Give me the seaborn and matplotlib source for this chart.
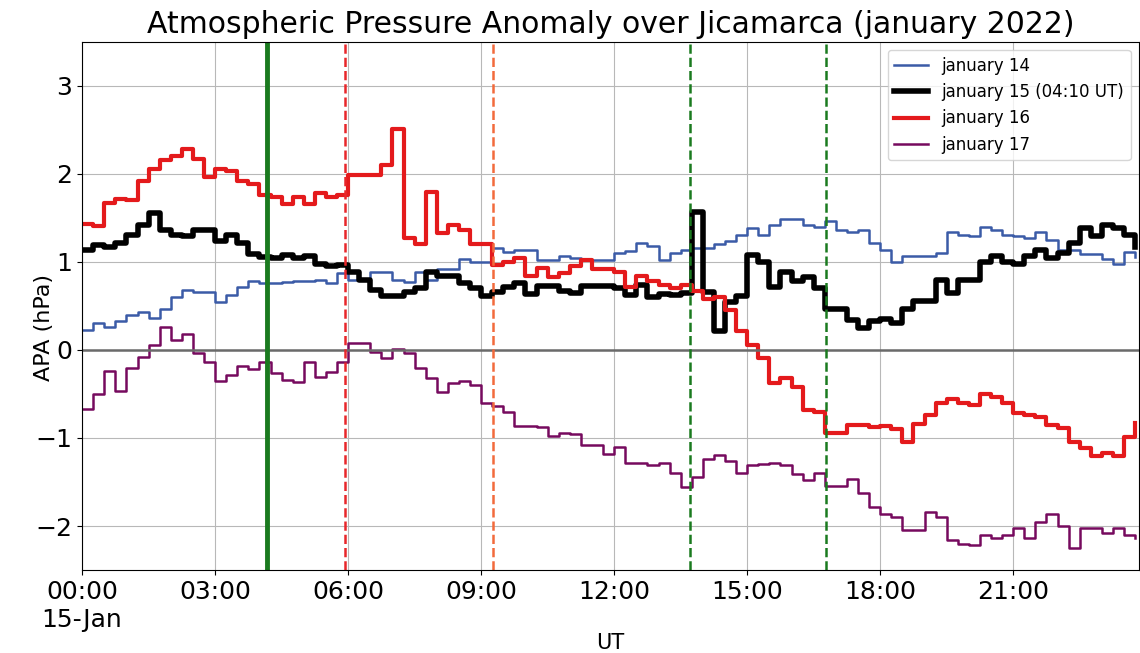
import numpy as np
import pandas as pd
import matplotlib
matplotlib.use("Agg")
import matplotlib.pyplot as plt
import matplotlib.dates as mdates
from matplotlib.ticker import FuncFormatter
import seaborn as sns

# 15-min samples over the day (UT)
times = pd.date_range("2022-01-15 00:00", periods=96, freq="15min")

jan14 = [0.23, 0.31, 0.26, 0.33, 0.40, 0.43, 0.36, 0.47, 0.60, 0.68, 0.66, 0.66, 0.55, 0.62, 0.72, 0.78, 0.76, 0.76,
         0.77, 0.78, 0.78, 0.79, 0.76, 0.87, 0.80, 0.80, 0.89, 0.89, 0.80, 0.77, 0.89, 0.80, 0.92, 0.92, 1.03, 1.00,
         1.00, 1.16, 1.11, 1.14, 1.14, 1.02, 1.02, 1.07, 1.04, 1.02, 1.02, 1.02, 1.10, 1.12, 1.22, 1.18,
         1.02, 1.10, 1.14, 1.16, 1.16, 1.20, 1.24, 1.30, 1.39, 1.30, 1.42, 1.49, 1.49, 1.42, 1.40, 1.47,
         1.36, 1.34, 1.36, 1.22, 1.14, 1.00, 1.07, 1.07, 1.07, 1.10, 1.34, 1.30, 1.29, 1.40, 1.36, 1.30,
         1.29, 1.27, 1.34, 1.25, 1.14, 1.14, 1.09, 1.09, 1.03, 0.98, 1.11, 1.06]

jan15 = [1.13, 1.19, 1.17, 1.22, 1.30, 1.42, 1.56, 1.36, 1.31, 1.29, 1.36, 1.36, 1.24, 1.31, 1.22, 1.09, 1.06, 1.05,
         1.08, 1.04, 1.07, 0.98, 0.95, 0.97, 0.89, 0.80, 0.68, 0.61, 0.61, 0.66, 0.70, 0.88, 0.84, 0.84, 0.76, 0.70,
         0.61, 0.66, 0.71, 0.76, 0.64, 0.73, 0.73, 0.67, 0.65, 0.73, 0.73, 0.73, 0.70, 0.62, 0.74, 0.60,
         0.64, 0.62, 0.65, 1.57, 0.66, 0.21, 0.55, 0.61, 1.08, 1.00, 0.72, 0.88, 0.78, 0.83, 0.70, 0.46,
         0.46, 0.34, 0.25, 0.33, 0.35, 0.31, 0.46, 0.56, 0.56, 0.80, 0.65, 0.80, 0.80, 1.00, 1.07, 1.00,
         0.98, 1.07, 1.14, 1.05, 1.10, 1.22, 1.38, 1.29, 1.42, 1.38, 1.30, 1.17]

jan16 = [1.43, 1.41, 1.67, 1.72, 1.70, 1.92, 2.06, 2.16, 2.20, 2.28, 2.17, 1.96, 2.05, 2.03, 1.92, 1.88, 1.76, 1.74,
         1.66, 1.74, 1.66, 1.78, 1.74, 1.76, 1.99, 1.99, 1.99, 2.10, 2.51, 1.27, 1.20, 1.79, 1.33, 1.42, 1.36, 1.20,
         1.20, 0.97, 1.00, 1.05, 0.84, 0.93, 0.83, 0.87, 0.95, 1.02, 0.92, 0.92, 0.89, 0.72, 0.84, 0.78,
         0.74, 0.70, 0.74, 0.67, 0.58, 0.60, 0.45, 0.21, 0.06, -0.09, -0.38, -0.32, -0.42, -0.68, -0.70, -0.94,
         -0.94, -0.85, -0.85, -0.88, -0.86, -0.90, -1.04, -0.84, -0.74, -0.60, -0.56, -0.60, -0.62, -0.50, -0.54, -0.60,
         -0.72, -0.74, -0.76, -0.85, -0.89, -1.05, -1.11, -1.21, -1.17, -1.21, -0.99, -0.83]

jan17 = [-0.67, -0.50, -0.24, -0.47, -0.20, -0.08, 0.06, 0.26, 0.11, 0.18, -0.04, -0.14, -0.35, -0.28, -0.18, -0.22, -0.14, -0.26,
         -0.34, -0.36, -0.14, -0.31, -0.25, -0.14, 0.08, 0.08, -0.02, -0.09, 0.01, -0.04, -0.20, -0.32, -0.48, -0.38, -0.35, -0.40,
         -0.60, -0.64, -0.70, -0.86, -0.86, -0.88, -0.98, -0.94, -0.96, -1.08, -1.08, -1.18, -1.10, -1.28, -1.28, -1.31,
         -1.28, -1.40, -1.56, -1.44, -1.24, -1.19, -1.26, -1.40, -1.31, -1.30, -1.28, -1.31, -1.41, -1.48, -1.40, -1.54,
         -1.54, -1.47, -1.63, -1.78, -1.86, -1.90, -2.04, -2.04, -1.84, -1.90, -2.16, -2.20, -2.22, -2.10, -2.14, -2.10,
         -2.02, -2.14, -1.95, -1.86, -2.00, -2.25, -2.02, -2.02, -2.08, -2.02, -2.10, -2.14]

series_labels = ["january 14", "january 15 (04:10 UT)", "january 16", "january 17"]
series_colors = ["#3b5ba7", "black", "#e41a1c", "#760a5e"]
series_widths = [1.8, 4.0, 3.0, 1.8]

# event markers (UT)
events = ["2022-01-15 04:10", "2022-01-15 05:56", "2022-01-15 09:16", "2022-01-15 13:42", "2022-01-15 16:46"]
event_colors = ["#1a7a1f", "#e8262a", "#f26a3c", "#1a7a1f", "#1a7a1f"]
event_styles = ["-", "--", "--", "--", "--"]
event_widths = [3.5, 1.8, 1.8, 1.8, 1.8]


def fmt_time(x, pos):
    d = mdates.num2date(x)
    s = d.strftime("%H:%M")
    if d.hour == 0 and d.minute == 0:
        s += "\n" + d.strftime("%d-%b")
    return s


fig, ax = plt.subplots(figsize=(11.4, 6.53), dpi=100)
fig.subplots_adjust(left=0.072, right=0.999, top=0.936, bottom=0.127)

for vals, lab, col, lw in zip([jan14, jan15, jan16, jan17], series_labels, series_colors, series_widths):
    df = pd.DataFrame({"time": times, "apa": vals})
    sns.lineplot(data=df, x="time", y="apa", ax=ax, color=col, linewidth=lw,
                 label=lab, drawstyle="steps-post")

ax.axhline(0, color="#6a6a6a", linewidth=1.8)
for t, c, ls, lw in zip(events, event_colors, event_styles, event_widths):
    ax.axvline(pd.Timestamp(t), color=c, linestyle=ls, linewidth=lw)

ax.set_xlim(times[0], pd.Timestamp("2022-01-15 23:50"))
ax.set_ylim(-2.5, 3.5)
ax.xaxis.set_major_locator(mdates.HourLocator(byhour=range(0, 24, 3)))
ax.xaxis.set_major_formatter(FuncFormatter(fmt_time))
ax.grid(True, color="#b8b8b8", linewidth=0.8)
ax.tick_params(axis="both", labelsize=18)

ax.set_title("Atmospheric Pressure Anomaly over Jicamarca (january 2022)", fontsize=21.5)
ax.set_xlabel("UT", fontsize=15)
ax.set_ylabel("APA (hPa)", fontsize=16)
ax.xaxis.set_label_coords(0.5, -0.12)
ax.yaxis.set_label_coords(-0.027, 0.46)
ax.legend(loc="upper right", fontsize=12)

plt.savefig("out.png", dpi=100)
plt.close()
